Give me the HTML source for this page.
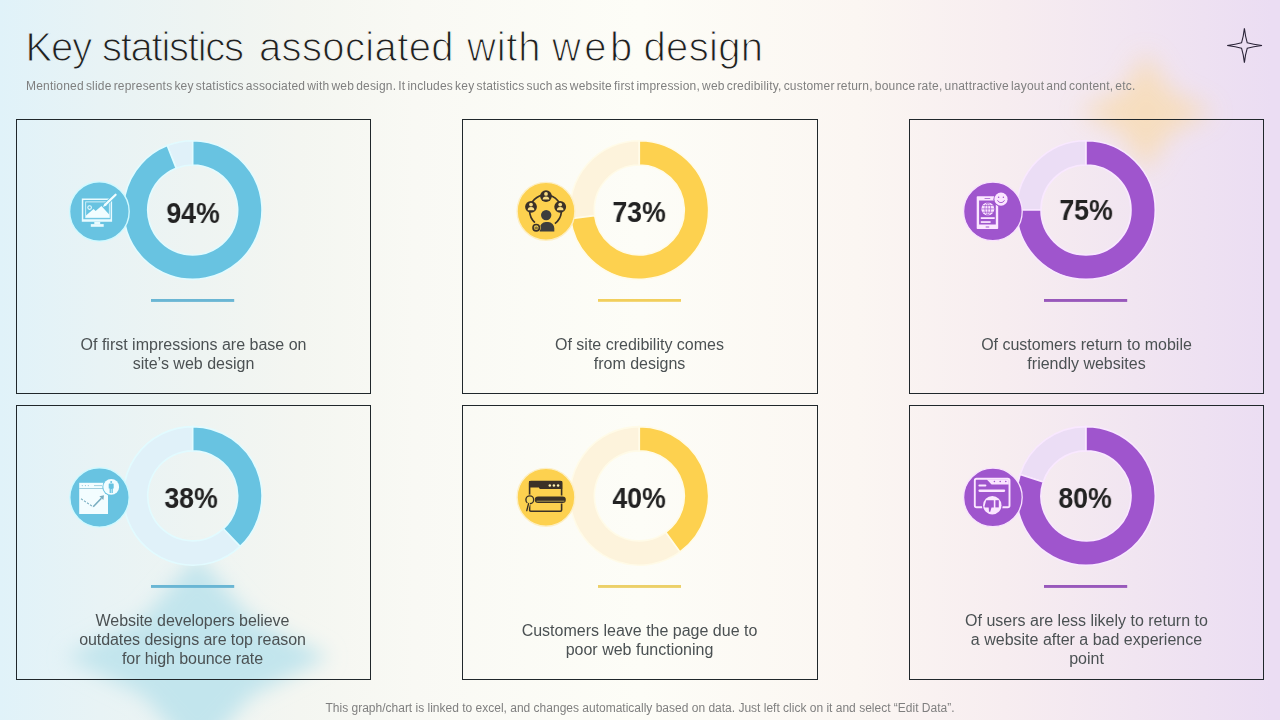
<!DOCTYPE html>
<html>
<head>
<meta charset="utf-8">
<title>Key statistics associated with web design</title>
<style>
  html, body { margin: 0; padding: 0; }
  body {
    width: 1280px; height: 720px; overflow: hidden; position: relative;
    font-family: "Liberation Sans", sans-serif;
    background: linear-gradient(90deg,
      #e0f2f9 0%, #e8f3f5 7.8%, #eef4f2 15.6%, #f4f6f1 23.4%, #f9f9f4 32.4%,
      #fdfdf7 50%, #fbf6f2 67%, #f7edf0 78.5%, #f1e5f1 88.7%, #ebddf3 99.4%);
  }
  .abs { position: absolute; }
  .txt, .sub, .foot, .pct { will-change: transform; }
  #bgsvg { left: 0; top: 0; width: 1280px; height: 720px; }
  .sub {
    position: absolute; left: 26px; top: 79px; font-size: 12px; line-height: 14px;
    color: #7f7f7f; white-space: nowrap; letter-spacing: 0.2px; word-spacing: -1.47px;
  }
  .foot {
    position: absolute; left: 0; width: 1280px; top: 701px; text-align: center;
    font-size: 12px; line-height: 14px; color: #7f7f7f; white-space: nowrap;
  }
  .card {
    position: absolute; box-sizing: border-box; border: 1px solid #20272b;
    width: 355px; height: 275px;
  }
  .c1 { left: 16px; } .c2 { left: 462px; width: 356px; } .c3 { left: 909px; width: 355px; }
  .r1 { top: 119px; } .r2 { top: 405px; }
  .pct {
    position: absolute; width: 100px; text-align: center;
    font-weight: bold; font-size: 28.6px; line-height: 32px; color: #222222; transform: scaleX(0.935); transform-origin: 50% 50%;
  }
  .txt {
    position: absolute; width: 355px; text-align: center;
    font-size: 16px; line-height: 19px; color: #4b5153;
  }
</style>
</head>
<body>
<svg id="bgsvg" class="abs" viewBox="0 0 1280 720">
  <defs>
    <filter id="blur1" x="-50%" y="-50%" width="200%" height="200%"><feGaussianBlur stdDeviation="10"/></filter>
    <filter id="blur2" x="-50%" y="-50%" width="200%" height="200%"><feGaussianBlur stdDeviation="12"/></filter>
  </defs>
  <path d="M1146 52 L1170 91 L1214 112 L1170 133 L1146 172 L1122 133 L1078 112 L1122 91Z" fill="#f8dcb2" opacity="0.8" filter="url(#blur2)"/>
  <path d="M197 556 L251 618 L329 657 L251 696 L197 758 L143 696 L65 657 L143 618Z" fill="#c2e5ed" opacity="1" filter="url(#blur1)"/>
  <path d="M1244.4 28.2 Q1245.4 37 1247.2 42.7 Q1253 44.5 1262 45.5 Q1253 46.5 1247.2 48.3 Q1245.4 54 1244.4 62.6 Q1243.4 54 1241.6 48.3 Q1236 46.5 1227.2 45.5 Q1236 44.5 1241.6 42.7 Q1243.4 37 1244.4 28.2Z" fill="none" stroke="#2b2438" stroke-width="1.1" stroke-linejoin="miter"/>
</svg>

<svg id="title" class="abs" style="left:0;top:0;width:1280px;height:76px" viewBox="0 0 1280 76">
  <defs>
    <linearGradient id="bgg" gradientUnits="userSpaceOnUse" x1="0" y1="0" x2="1280" y2="0">
      <stop offset="0" stop-color="#e0f2f9"/><stop offset="0.078" stop-color="#e8f3f5"/><stop offset="0.156" stop-color="#eef4f2"/>
      <stop offset="0.234" stop-color="#f4f6f1"/><stop offset="0.324" stop-color="#f9f9f4"/><stop offset="0.5" stop-color="#fdfdf7"/>
      <stop offset="0.67" stop-color="#fbf6f2"/><stop offset="0.785" stop-color="#f7edf0"/><stop offset="0.887" stop-color="#f1e5f1"/>
      <stop offset="0.994" stop-color="#ebddf3"/>
    </linearGradient>
  </defs>
  <g font-family="Liberation Sans, sans-serif" font-size="40" fill="#1f1f1f" stroke="url(#bgg)" stroke-width="1.1" paint-order="fill stroke">
    <text id="w1" x="25.4" y="61" textLength="66.8" lengthAdjust="spacing">Key</text>
    <text id="w2" x="102" y="61" textLength="142" lengthAdjust="spacing">statistics</text>
    <text id="w3" x="259" y="61" textLength="194.5" lengthAdjust="spacing">associated</text>
    <text id="w4" x="467" y="61" textLength="73.5" lengthAdjust="spacing">with</text>
    <text id="w5" x="552" y="61" textLength="80.3" lengthAdjust="spacing">web</text>
    <text id="w6" x="643.5" y="61" textLength="119.5" lengthAdjust="spacing">design</text>
  </g>
</svg>
<div class="sub">Mentioned slide represents key statistics associated with web design. It includes key statistics such as website first impression, web credibility, customer return, bounce rate, unattractive layout and content, etc.</div>

<div class="card c1 r1"></div><div class="card c2 r1"></div><div class="card c3 r1"></div>
<div class="card c1 r2"></div><div class="card c2 r2"></div><div class="card c3 r2"></div>

<svg id="fg" class="abs" style="left:0;top:0;width:1280px;height:720px" viewBox="0 0 1280 720">
<!-- DONUTS -->
<path d="M167.19 145.57A69.3 69.3 0 0 1 192.70 140.70L192.70 165.00A45.0 45.0 0 0 0 176.13 168.16Z" fill="#e0f1f9" stroke="#e2fbff" stroke-width="1.6"/>
<path d="M192.70 140.70A69.3 69.3 0 1 1 167.19 145.57L176.13 168.16A45.0 45.0 0 1 0 192.70 165.00Z" fill="#68c3e1" stroke="#e2fbff" stroke-width="1.6"/>
<path d="M570.55 218.69A69.3 69.3 0 0 1 639.30 140.70L639.30 165.00A45.0 45.0 0 0 0 594.65 215.64Z" fill="#fdf3dc" stroke="#fffbe8" stroke-width="1.6"/>
<path d="M639.30 140.70A69.3 69.3 0 1 1 570.55 218.69L594.65 215.64A45.0 45.0 0 1 0 639.30 165.00Z" fill="#fdd14f" stroke="#fffbe8" stroke-width="1.6"/>
<path d="M1016.70 210.00A69.3 69.3 0 0 1 1086.00 140.70L1086.00 165.00A45.0 45.0 0 0 0 1041.00 210.00Z" fill="#ebddf5" stroke="#f9e8ff" stroke-width="1.6"/>
<path d="M1086.00 140.70A69.3 69.3 0 1 1 1016.70 210.00L1041.00 210.00A45.0 45.0 0 1 0 1086.00 165.00Z" fill="#9f55cd" stroke="#f9e8ff" stroke-width="1.6"/>
<path d="M240.14 546.42A69.3 69.3 0 1 1 192.70 426.60L192.70 450.90A45.0 45.0 0 1 0 223.50 528.70Z" fill="#e0f1f9" stroke="#e2fbff" stroke-width="1.6"/>
<path d="M192.70 426.60A69.3 69.3 0 0 1 240.14 546.42L223.50 528.70A45.0 45.0 0 0 0 192.70 450.90Z" fill="#68c3e1" stroke="#e2fbff" stroke-width="1.6"/>
<path d="M680.03 551.96A69.3 69.3 0 1 1 639.30 426.60L639.30 450.90A45.0 45.0 0 1 0 665.75 532.31Z" fill="#fdf3dc" stroke="#fffbe8" stroke-width="1.6"/>
<path d="M639.30 426.60A69.3 69.3 0 0 1 680.03 551.96L665.75 532.31A45.0 45.0 0 0 0 639.30 450.90Z" fill="#fdd14f" stroke="#fffbe8" stroke-width="1.6"/>
<path d="M1020.09 474.49A69.3 69.3 0 0 1 1086.00 426.60L1086.00 450.90A45.0 45.0 0 0 0 1043.20 481.99Z" fill="#ebddf5" stroke="#f9e8ff" stroke-width="1.6"/>
<path d="M1086.00 426.60A69.3 69.3 0 1 1 1020.09 474.49L1043.20 481.99A45.0 45.0 0 1 0 1086.00 450.90Z" fill="#9f55cd" stroke="#f9e8ff" stroke-width="1.6"/>
<!-- BARS -->
<rect x="151" y="299" width="83.2" height="2.9" fill="#6ab6d4"/>
<rect x="598" y="299" width="83" height="2.8" fill="#f2cf5c"/>
<rect x="1044" y="299" width="83.2" height="2.9" fill="#9858bb"/>
<rect x="151" y="585" width="83.2" height="2.9" fill="#6ab6d4"/>
<rect x="598" y="585" width="83" height="2.9" fill="#ecd068"/>
<rect x="1044" y="585" width="83.2" height="2.9" fill="#9858bb"/>
<!-- ICON CIRCLES -->
<circle cx="99.4" cy="211.5" r="29.8" fill="#68c3e1" stroke="#d0f9ff" stroke-width="1.4"/>
<circle cx="546" cy="211.3" r="28.9" fill="#fdd14f" stroke="#fdefc4" stroke-width="1.4"/>
<circle cx="992.9" cy="211.4" r="29.3" fill="#9f55cd" stroke="#f9e2ff" stroke-width="1.3"/>
<circle cx="99.5" cy="497.4" r="29.7" fill="#68c3e1" stroke="#d0f9ff" stroke-width="1.4"/>
<circle cx="546" cy="497.3" r="28.9" fill="#fdd14f" stroke="#fdefc4" stroke-width="1.4"/>
<circle cx="992.9" cy="497.4" r="29.3" fill="#9f55cd" stroke="#f9e2ff" stroke-width="1.3"/>
<!-- ICONS -->
<!-- icon1: monitor + pen -->
<g id="ic1">
  <path fill="#e9fbff" fill-rule="evenodd" d="M81.8 198.5h30.3v23.3h-30.3z M83.3 200h27.3v19.2h-27.3z"/>
  <rect x="85.7" y="201.9" width="23.6" height="15.8" fill="none" stroke="#e9fbff" stroke-width="0.8"/>
  <path fill="#f2fdff" d="M86 217.6 L86 215.6 L93.6 208.9 L95.6 211 L101.4 206 L109.2 214.5 L109.2 217.6Z"/>
  <circle cx="89.6" cy="207.6" r="1.8" fill="none" stroke="#e9fbff" stroke-width="1.1"/>
  <rect x="94.3" y="221.8" width="5.9" height="2.5" fill="#e9fbff"/>
  <rect x="90.8" y="224.1" width="12.9" height="2.7" fill="#e9fbff"/>
  <path d="M115.6 194.7 L104.6 205.4" stroke="#68c3e1" stroke-width="4" stroke-linecap="round" fill="none"/>
  <path d="M115.6 194.7 L105.6 204.4" stroke="#f2fdff" stroke-width="2.2" stroke-linecap="round" fill="none"/>
  <path d="M106.6 205.5 L104.5 203.4 L102.9 207.1Z" fill="#f2fdff"/>
</g>
<!-- icon2: people network -->
<g id="ic2">
  <path d="M534.9 222.6 A15.9 15.9 0 1 1 554.9 223.6" fill="none" stroke="#3b3127" stroke-width="1.7"/>
  <circle cx="546" cy="196.1" r="5.9" fill="#3b3127"/>
  <circle cx="531" cy="206.8" r="5.9" fill="#3b3127"/>
  <circle cx="560.2" cy="206.8" r="5.9" fill="#3b3127"/>
  <g fill="#f8dc84">
    <circle cx="546" cy="193.9" r="1.9"/><path d="M542.7 199.6 a3.3 3.2 0 0 1 6.6 0z"/>
    <circle cx="531" cy="204.6" r="1.9"/><path d="M527.7 210.3 a3.3 3.2 0 0 1 6.6 0z"/>
    <circle cx="560.2" cy="204.6" r="1.9"/><path d="M556.9 210.3 a3.3 3.2 0 0 1 6.6 0z"/>
  </g>
  <circle cx="546.2" cy="215.1" r="5.2" fill="#3d3d3d"/>
  <path d="M539.7 231.6 v-3.4 a6.1 6.1 0 0 1 6.1 -6.1 h2.4 a6.1 6.1 0 0 1 6.1 6.1 v3.4z" fill="#3d3d3d"/>
  <circle cx="536.2" cy="227.7" r="4.6" fill="#fdd14f"/>
  <circle cx="536.2" cy="227.7" r="3.2" fill="#e9c94f" stroke="#3b3127" stroke-width="1.6"/>
  <path d="M534.6 229.3v-2.2h1l0.9 -1.6v1.5h1.3v2.3z" fill="#3b3127" opacity="0.55"/>
</g>
<!-- icon3: phone + smiley -->
<g id="ic3">
  <path fill="#fbe6ff" fill-rule="evenodd" d="M977.5 196.3h19.9a0.8 0.8 0 0 1 0.8 0.8v31.2a0.8 0.8 0 0 1 -0.8 0.8h-19.9a0.8 0.8 0 0 1 -0.8 -0.8v-31.2a0.8 0.8 0 0 1 0.8 -0.8z M979.1 200.6v23.9h16.7v-23.9z M984.6 198h5.6v0.8h-5.6z M985.7 226.4h3.5v1.2h-3.5z"/>
  <circle cx="987.8" cy="208.9" r="6.5" fill="#fbe6ff"/>
  <g fill="none" stroke="#9f55cd" stroke-width="0.7">
    <ellipse cx="987.8" cy="208.9" rx="2.9" ry="6.2"/>
    <path d="M987.8 202.6v12.6 M981.5 208.9h12.6 M982.5 205.6h10.6 M982.5 212.2h10.6"/>
  </g>
  <rect x="980.8" y="217.2" width="13.9" height="1.8" fill="#fbe6ff"/>
  <rect x="980.8" y="221.2" width="9.8" height="1.7" fill="#fbe6ff"/>
  <circle cx="1001" cy="199.2" r="7.6" fill="#9f55cd"/>
  <circle cx="1001" cy="199.2" r="6.6" fill="#fbe6ff"/>
  <circle cx="998.6" cy="197.2" r="0.75" fill="#9f55cd"/><circle cx="1003.4" cy="197.2" r="0.75" fill="#9f55cd"/>
  <path d="M997.6 200.6 a3.7 3.4 0 0 0 6.8 0" fill="none" stroke="#9f55cd" stroke-width="0.9" stroke-linecap="round"/>
</g>
<!-- icon4: browser + chart + person -->
<g id="ic4">
  <rect x="79.2" y="482.8" width="28.8" height="31.2" fill="#f3fdff"/>
  <rect x="79.2" y="488.2" width="28.8" height="0.8" fill="#8cc4d6"/>
  <circle cx="82.3" cy="485.6" r="0.6" fill="#8cc4d6"/><circle cx="85.4" cy="485.6" r="0.6" fill="#8cc4d6"/><circle cx="88.3" cy="485.6" r="0.6" fill="#8cc4d6"/>
  <path d="M94 485.6h8" stroke="#8cc4d6" stroke-width="0.8"/>
  <path d="M81 498.8 L93.2 506.8" stroke="#7fb2c4" stroke-width="1.1" stroke-dasharray="2.2 1.4" fill="none"/>
  <path d="M93.2 506.8 L101.4 498.2" stroke="#78adc0" stroke-width="1.6" fill="none"/>
  <path d="M104 495.3 L103.4 500 L99.4 496.2Z" fill="#78adc0"/>
  <circle cx="111.2" cy="486.9" r="8.9" fill="#68c3e1"/>
  <circle cx="111.2" cy="486.9" r="7.9" fill="#f3fdff"/>
  <g fill="#68c3e1">
    <circle cx="111.2" cy="482" r="1"/>
    <path d="M109.3 483.6h3.8a0.6 0.6 0 0 1 0.6 0.6v4.2h-0.9v4.5h-1.3v-4h-0.6v4h-1.3v-4.5h-0.9v-4.2a0.6 0.6 0 0 1 0.6 -0.6z"/>
  </g>
</g>
<!-- icon5: browser + search -->
<g id="ic5">
  <rect x="529.6" y="481.6" width="32" height="29.6" rx="1.2" fill="none" stroke="#3b3127" stroke-width="1.6"/>
  <path d="M529 481h33.2v7.9h-22.4l-0.9 -1.3h-9.9z" fill="#3b3127"/>
  <circle cx="549.8" cy="485.4" r="1.25" fill="#fdf1b0"/><circle cx="553.9" cy="485.4" r="1.25" fill="#fdf1b0"/><circle cx="558.1" cy="485.4" r="1.25" fill="#fdf1b0"/>
  <rect x="533.5" y="495.6" width="33" height="8" rx="4" fill="#fdd14f"/>
  <rect x="534.8" y="496.4" width="31" height="6.5" rx="3.25" fill="#3b3127"/>
  <path d="M537 501.2h27" stroke="#c9b45a" stroke-width="0.8" stroke-linecap="round"/>
  <circle cx="529.8" cy="499.8" r="5.3" fill="#fdd14f"/>
  <circle cx="529.8" cy="499.8" r="3.9" fill="#f7d75c" stroke="#3b3127" stroke-width="1.4"/>
  <path d="M528.5 503.8 L526.8 510.6" stroke="#fdd14f" stroke-width="3" stroke-linecap="round"/>
  <path d="M528.5 503.8 L526.8 510.6" stroke="#3b3127" stroke-width="1.4" stroke-linecap="round"/>
</g>
<!-- icon6: browser + thumbs down -->
<g id="ic6">
  <rect x="974.8" y="478.8" width="34.7" height="28.4" rx="1.8" fill="none" stroke="#fbe6ff" stroke-width="1.9"/>
  <path d="M986.8 479.5 h22v5.1h-17.2z" fill="#fbe6ff"/>
  <circle cx="994.4" cy="481.5" r="0.8" fill="#9f55cd"/><circle cx="1000.2" cy="481.5" r="0.8" fill="#9f55cd"/><circle cx="1005.8" cy="481.5" r="0.8" fill="#9f55cd"/>
  <rect x="978.4" y="484.4" width="8" height="2" rx="1" fill="#fbe6ff"/>
  <rect x="978.4" y="489.6" width="26.8" height="2.3" rx="1.1" fill="#fbe6ff"/>
  <circle cx="992.3" cy="505.3" r="10.4" fill="#9f55cd"/>
  <circle cx="992.3" cy="505.3" r="9.2" fill="#fbe6ff"/>
  <g fill="#9f55cd">
    <rect x="995.4" y="500.2" width="3.4" height="7.2"/>
    <path d="M986.2 500.2h7.6v7.2h-2.3l-1.2 4.3h-1.3l-0.3 -4.3h-3.4a0.8 0.8 0 0 1 -0.8 -0.9z"/>
  </g>
</g>
<!-- /ICONS -->
</svg>

<div class="pct" style="left:143px;top:196.8px">94%</div>
<div class="pct" style="left:589px;top:195.8px">73%</div>
<div class="pct" style="left:1036px;top:194px">75%</div>
<div class="pct" style="left:141px;top:482px">38%</div>
<div class="pct" style="left:589px;top:482px">40%</div>
<div class="pct" style="left:1035px;top:482px">80%</div>

<div class="txt" style="left:15.5px;top:335px">Of first impressions are base on<br>site’s web design</div>
<div class="txt" style="left:462px;top:335px">Of site credibility comes<br>from designs</div>
<div class="txt" style="left:909px;top:335px">Of customers return to mobile<br>friendly websites</div>
<div class="txt" style="left:15px;top:611px;letter-spacing:-0.06px">Website developers believe<br>outdates designs are top reason<br>for high bounce rate</div>
<div class="txt" style="left:462px;top:621px">Customers leave the page due to<br>poor web functioning</div>
<div class="txt" style="left:909px;top:611px">Of users are less likely to return to<br>a website after a bad experience<br>point</div>


<div class="foot">This graph/chart is linked to excel, and changes automatically based on data. Just left click on it and select “Edit Data”.</div>
</body>
</html>
